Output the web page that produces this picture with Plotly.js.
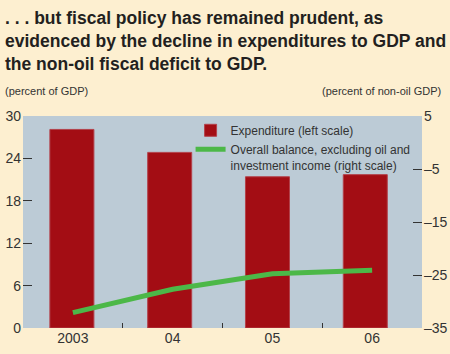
<!DOCTYPE html>
<html><head><meta charset="utf-8">
<script src="https://cdn.plot.ly/plotly-3.0.1.min.js"></script>
<style>html,body{margin:0;padding:0;background:#fdefd0;}#chart{width:450px;height:354px;}</style>
</head><body><div id="chart"></div>
<script>
const years = ["2003", "04", "05", "06"];
const expenditure = [28.1, 24.85, 21.4, 21.7];
const overallBalance = [-32.1, -27.7, -24.75, -24.1];
const leftTicks = [0, 6, 12, 18, 24, 30];
const rightTicks = [-35, -25, -15, -5, 5];
const rightTickText = ["–35", "–25", "–15", "–5", "5"];

const FONT = '"Liberation Sans", Arial, sans-serif';
const traces = [
  {type: 'bar', x: years, y: expenditure, name: 'Expenditure (left scale)',
   xaxis: 'x', yaxis: 'y', width: 0.45,
   marker: {color: '#a30d14', line: {color: '#b3414a', width: 1}}},
  {type: 'scatter', mode: 'lines', x: years, y: overallBalance,
   name: 'Overall balance, excluding oil and<br>investment income (right scale)',
   xaxis: 'x2', yaxis: 'y2', line: {color: '#4cb848', width: 5}}
];
const layout = {
  width: 450, height: 354,
  paper_bgcolor: '#fdefd0', plot_bgcolor: '#bccbd6',
  margin: {l: 23, r: 28, t: 116, b: 26, autoexpand: false},
  font: {family: FONT, size: 13, color: '#333'},
  showlegend: true,
  legend: {x: 0.42, y: 1.0, xanchor: 'left', yanchor: 'top', bgcolor: 'rgba(0,0,0,0)',
           font: {family: FONT, size: 12, color: '#333'}, itemwidth: 30, tracegroupgap: 0,
           traceorder: 'normal', valign: 'top'},
  xaxis: {type: 'category', range: [-0.5, 3.58], showticklabels: false, ticks: '',
          showgrid: false, zeroline: false, showline: false, fixedrange: true, automargin: false},
  xaxis2: {type: 'category', overlaying: 'x', range: [-0.5, 3.5], side: 'bottom',
           tickson: 'boundaries', ticks: 'inside', ticklen: 5, tickcolor: '#333', automargin: false,
           showgrid: false, zeroline: false, showline: false, tickfont: {size: 14}},
  yaxis: {range: [0, 30], tickvals: leftTicks, ticks: 'inside', ticklen: 9, tickcolor: '#333',
          automargin: false, ticklabelstandoff: 1,
          showgrid: false, zeroline: false, showline: false, tickfont: {size: 14}},
  yaxis2: {range: [-35, 5], tickvals: rightTicks, ticktext: rightTickText, overlaying: 'y', side: 'right',
           ticks: 'inside', ticklen: 9, tickcolor: '#333', ticklabelstandoff: 1, automargin: false,
           showgrid: false, zeroline: false, showline: false, tickfont: {size: 14}},
  annotations: [
    {text: '. . . but fiscal policy has remained prudent, as<br>evidenced by the decline in expenditures to GDP and<br>the non-oil fiscal deficit to GDP.',
     xref: 'paper', yref: 'paper', x: -0.05, y: 1.52, xanchor: 'left', yanchor: 'top', align: 'left',
     showarrow: false, font: {family: FONT, size: 17.5, color: '#231f20', weight: 'bold'}},
    {text: '(percent of GDP)', xref: 'paper', yref: 'paper', x: -0.05, y: 1.12, xanchor: 'left', yanchor: 'middle',
     showarrow: false, font: {family: FONT, size: 11, color: '#333'}},
    {text: '(percent of non-oil GDP)', xref: 'paper', yref: 'paper', x: 1.052, y: 1.12, xanchor: 'right', yanchor: 'middle',
     showarrow: false, font: {family: FONT, size: 11, color: '#333'}}
  ]
};
Plotly.newPlot('chart', traces, layout, {displayModeBar: false, staticPlot: true});
</script></body></html>
